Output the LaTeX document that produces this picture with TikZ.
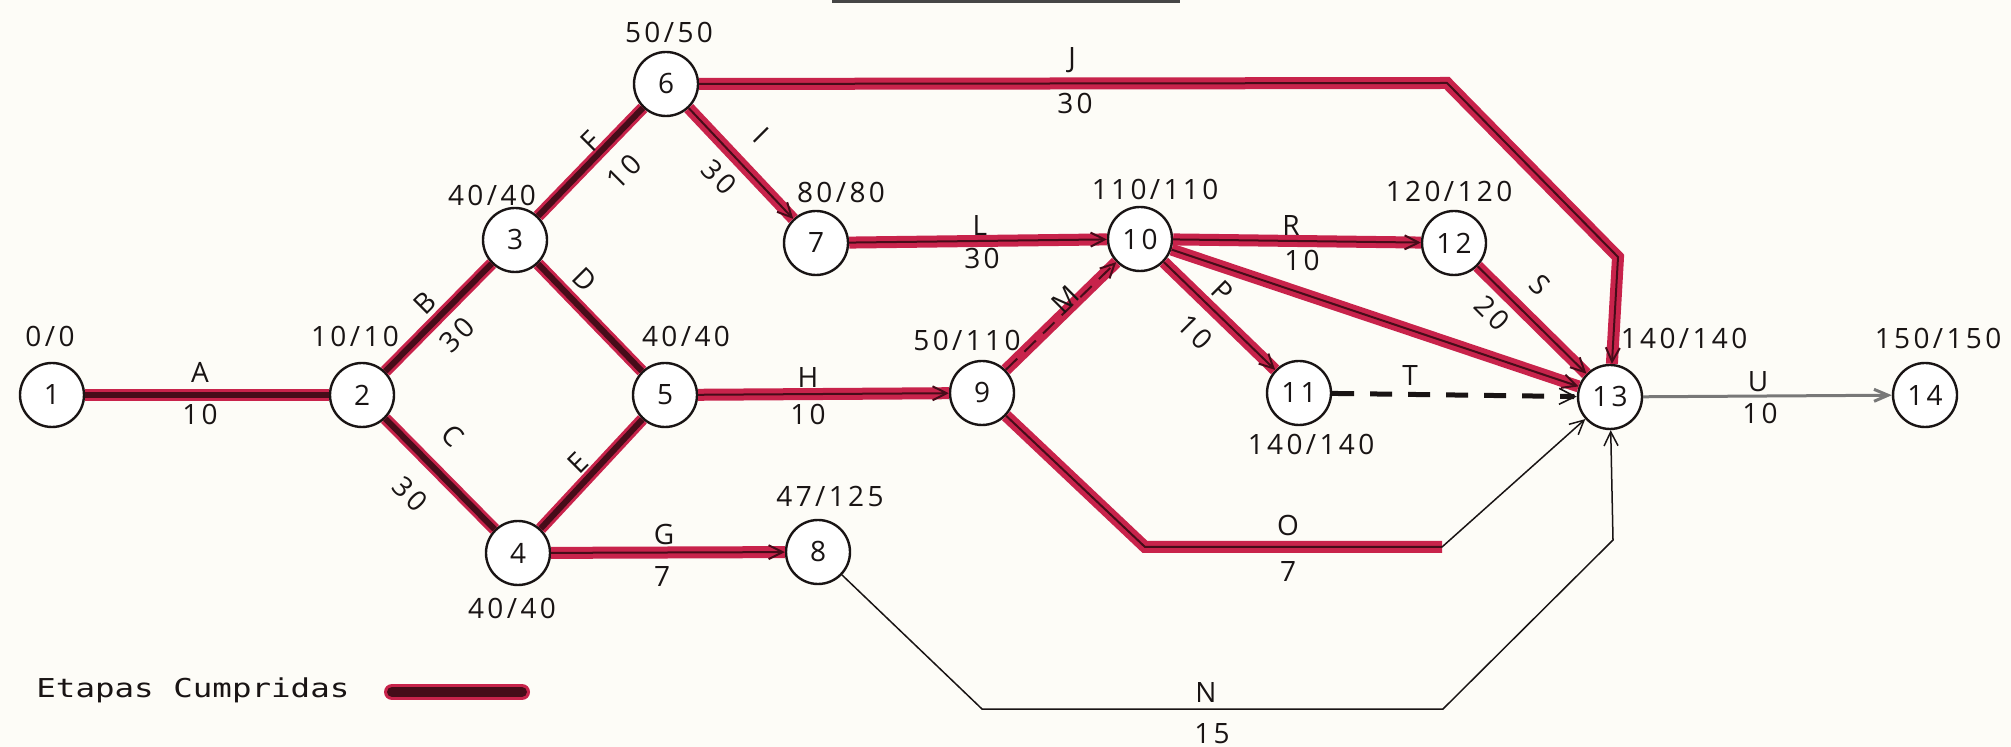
\documentclass[tikz,border=0pt]{standalone}
\usepackage{fontspec}
\setmainfont{Open Sans}
\newfontfamily\lblfont[LetterSpace=12]{Open Sans}
\newfontfamily\legfont{DejaVu Sans Mono}
\usetikzlibrary{arrows.meta}
\definecolor{ink}{RGB}{25,20,20}
\definecolor{mark}{RGB}{200,35,75}
\definecolor{core}{RGB}{70,12,25}
\definecolor{paper}{RGB}{253,252,247}
\definecolor{pencil}{RGB}{120,120,120}
\definecolor{rule}{RGB}{70,70,70}
\begin{document}
\begin{tikzpicture}[x=0.5pt,y=-0.5pt,
  ev/.style={circle, draw=ink, fill=white, line width=1.2pt, minimum size=32pt, inner sep=0pt, font=\lblfont\fontsize{14}{16}\selectfont, text=ink},
  lb/.style={font=\lblfont\fontsize{14}{16}\selectfont, inner sep=0pt, text=ink},
  tip/.style={-{Straight Barb[length=7pt,width=7pt]}},
  done/.style={draw=core, line width=1pt, preaction={draw=mark, line width=6pt, -}, tip},
  donedk/.style={draw=core, line width=3pt, preaction={draw=mark, line width=6pt}},
  thinarr/.style={draw=ink, line width=0.75pt, tip},
]
\fill[paper] (0,0) rectangle (2011,747);
\useasboundingbox (0,0) rectangle (2011,747);

% title underline remnant
\coordinate (t1) at (832,2);
\coordinate (t2) at (1180,2);
\draw[line width=1.5pt, rule] (t1) -- (t2);

% events
\node[ev] (n1)  at (52,395)   {1};
\node[ev] (n2)  at (362,395)  {2};
\node[ev] (n3)  at (515,240)  {3};
\node[ev] (n4)  at (518,553)  {4};
\node[ev] (n5)  at (665,395)  {5};
\node[ev] (n6)  at (666,84)   {6};
\node[ev] (n7)  at (816,243)  {7};
\node[ev] (n8)  at (818,552)  {8};
\node[ev] (n9)  at (982,393)  {9};
\node[ev] (n10) at (1140,239) {10};
\node[ev] (n11) at (1299,393) {11};
\node[ev] (n12) at (1454,243) {12};
\node[ev] (n13) at (1610,397) {13};
\node[ev] (n14) at (1925,395) {14};

% bend points
\coordinate (j1) at (1447,83);
\coordinate (j2) at (1618,257);
\coordinate (o1) at (1145,547);
\coordinate (o2) at (1442,547);
\coordinate (m1) at (982,709);
\coordinate (m2) at (1443,709);
\coordinate (m3) at (1613,540);

% activities
\draw[donedk] (n1) -- (n2);
\draw[donedk] (n2) -- (n3);
\draw[donedk] (n2) -- (n4);
\draw[donedk] (n3) -- (n5);
\draw[donedk] (n4) -- (n5);
\draw[donedk] (n3) -- (n6);
\draw[done] (n6) -- (n7);
\draw[done] (n6) -- (j1) -- (j2) -- (n13);
\draw[done] (n7) -- (n10);
\draw[done] (n5) -- (n9);
\draw[done, dash pattern=on 8pt off 5pt] (n9) -- (n10);
\draw[done] (n10) -- (n12);
\draw[done] (n10) -- (n13);
\draw[done] (n10) -- (n11);
\draw[done] (n12) -- (n13);
\draw[done] (n4) -- (n8);
\draw[draw=core, line width=1pt, preaction={draw=mark, line width=6pt}] (n9) -- (o1) -- (o2);
\draw[thinarr] (o2) -- (n13);
\draw[thinarr] (n8) -- (m1) -- (m2) -- (m3) -- (n13);
\draw[draw=ink, line width=2.5pt, dash pattern=on 11pt off 8pt, -{Straight Barb[length=8pt,width=8pt,line width=0.8pt]}] (n11) -- (n13);
\draw[draw=pencil, line width=1.5pt, -{Straight Barb[length=7pt,width=6pt]}] (n13) -- (n14);

% event times
\node[lb] (e1)  at (50,336)   {0/0};
\node[lb] (e2)  at (355,336)  {10/10};
\node[lb] (e3)  at (492,195)  {40/40};
\node[lb] (e5)  at (686,336)  {40/40};
\node[lb] (e4)  at (512,608)  {40/40};
\node[lb] (e6)  at (669,32)   {50/50};
\node[lb] (e7)  at (841,192)  {80/80};
\node[lb] (e10) at (1155,189) {110/110};
\node[lb] (e12) at (1449,191) {120/120};
\node[lb] (e9)  at (967,340)  {50/110};
\node[lb] (e11) at (1311,444) {140/140};
\node[lb] (e13) at (1684,338) {140/140};
\node[lb] (e14) at (1938,338) {150/150};
\node[lb] (e8)  at (830,497)  {47/125};

% activity labels
\node[lb] (lA) at (200,372) {A};
\node[lb] (dA) at (200,414) {10};
\node[lb, rotate=45] (lB) at (425,303) {B};
\node[lb, rotate=45] (dB) at (457,335) {30};
\node[lb, rotate=-45] (lC) at (453,436) {C};
\node[lb, rotate=-45] (dC) at (410,494) {30};
\node[lb, rotate=-45] (lD) at (585,280) {D};
\node[lb, rotate=45] (lE) at (578,463) {E};
\node[lb, rotate=45] (lF) at (591,141) {F};
\node[lb, rotate=45] (dF) at (624,172) {10};
\node[lb, rotate=-45] (lI) at (761,135) {I};
\node[lb, rotate=-45] (dI) at (719,177) {30};
\node[lb] (lJ) at (1072,60) {J};
\node[lb] (dJ) at (1075,103) {30};
\node[lb] (lL) at (980,226) {L};
\node[lb] (dL) at (982,258) {30};
\node[lb] (lH) at (808,378) {H};
\node[lb] (dH) at (808,414) {10};
\node[lb] (lG) at (664,534) {G};
\node[lb] (dG) at (662,577) {7};
\node[lb, rotate=45] (lM) at (1065,300) {M};
\node[lb] (lR) at (1291,226) {R};
\node[lb] (dR) at (1302,260) {10};
\node[lb, rotate=-45] (lP) at (1223,291) {P};
\node[lb, rotate=-45] (dP) at (1195,332) {10};
\node[lb, rotate=-45] (lS) at (1540,285) {S};
\node[lb, rotate=-45] (dS) at (1492,313) {20};
\node[lb] (lT) at (1410,376) {T};
\node[lb] (lO) at (1288,525) {O};
\node[lb] (dO) at (1288,572) {7};
\node[lb] (lN) at (1206,693) {N};
\node[lb] (dN) at (1212,734) {15};
\node[lb] (lU) at (1758,382) {U};
\node[lb] (dU) at (1760,413) {10};

% legend
\node[font=\legfont\fontsize{13}{15}\selectfont, text=ink, anchor=west, inner sep=0pt] (leg) at (36,690) {\scalebox{1.25}[1]{Etapas Cumpridas}};
\coordinate (lg1) at (392,692);
\coordinate (lg2) at (522,692);
\draw[draw=core, line width=5pt, line cap=round, preaction={draw=mark, line width=8pt, line cap=round}] (lg1) -- (lg2);
\end{tikzpicture}
\end{document}
